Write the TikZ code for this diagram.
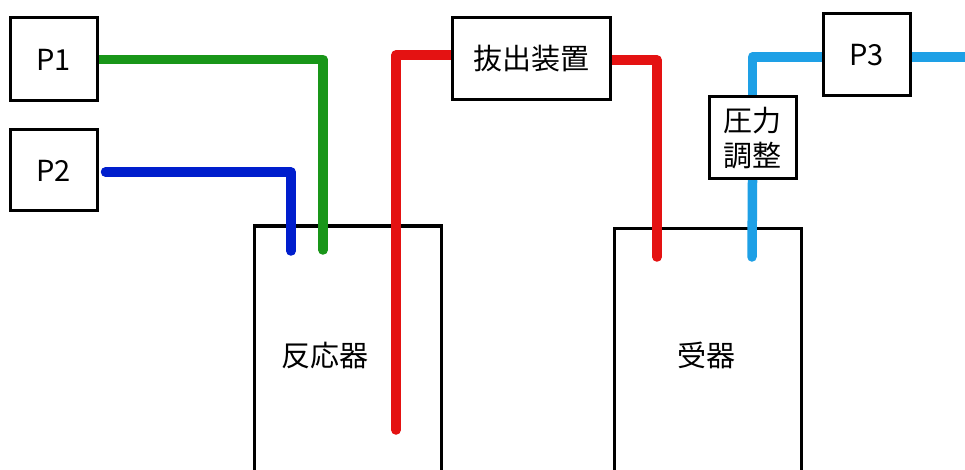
\documentclass[tikz,border=0pt]{standalone}
\usepackage{fontspec}
\setmainfont{Noto Sans CJK JP}
\pgfdeclarelayer{back}
\pgfdeclarelayer{mid}
\pgfsetlayers{back,mid,main}
\begin{document}
\begin{tikzpicture}[x=1pt,y=-1pt,
  box/.style={draw=black,line width=3pt,fill=white,inner sep=0pt,font=\fontsize{29}{40}\selectfont},
  lbl/.style={font=\fontsize{29}{40}\selectfont},
  pipe/.style={line width=9.5pt,line cap=round,line join=round}]
\definecolor{pgreen}{RGB}{25,150,25}
\definecolor{pblue}{RGB}{0,30,205}
\definecolor{pred}{RGB}{228,18,18}
\definecolor{plblue}{RGB}{30,160,230}
\useasboundingbox (0,0) rectangle (965,470);
\begin{pgfonlayer}{back}
\fill[white] (0,0) rectangle (965,470);
\node[box,minimum width=187,minimum height=300] (R) at (347.5,376) {};
\node[box,minimum width=187,minimum height=300] (V) at (707.5,378) {};
\end{pgfonlayer}
\node[lbl] (Rt) at (325,356) {反応器};
\node[lbl] (Vt) at (706,355) {受器};
\node[box,minimum width=87,minimum height=83] (P1) at (53.5,59.5) {P1};
\node[box,minimum width=87,minimum height=81] (P2) at (53.5,170.5) {P2};
\node[box,minimum width=158,minimum height=82] (E) at (531,59) {抜出装置};
\node[box,minimum width=87,minimum height=82,align=center] (PC) at (752.5,138) {圧力\\[-5pt]調整};
\node[box,minimum width=87,minimum height=82] (P3) at (866.5,55) {P3};
\coordinate (gEnd) at (323,250);
\coordinate (bEnd) at (291,251);
\coordinate (rEnd) at (396,430);
\coordinate (r2End) at (657,257);
\coordinate (lbEnd) at (752,257);
\coordinate (out) at (975,58);
\begin{pgfonlayer}{mid}
\draw[pipe,pgreen] (P1.east) -| (gEnd);
\draw[pipe,pblue] ([xshift=7,yshift=-1.5]P2.east) -| (bEnd);
\draw[pipe,pred] ([yshift=4]E.west) -| (rEnd);
\draw[pipe,pred] ([yshift=-1]E.east) -| (r2End);
\draw[pipe,plblue] (lbEnd) -- (PC.south);
\draw[pipe,plblue] (PC.north) |- ([yshift=-2]P3.west);
\draw[pipe,plblue] ([yshift=-2]P3.east) -- ([yshift=-2]P3.east -| out);
\end{pgfonlayer}
\end{tikzpicture}
\end{document}
